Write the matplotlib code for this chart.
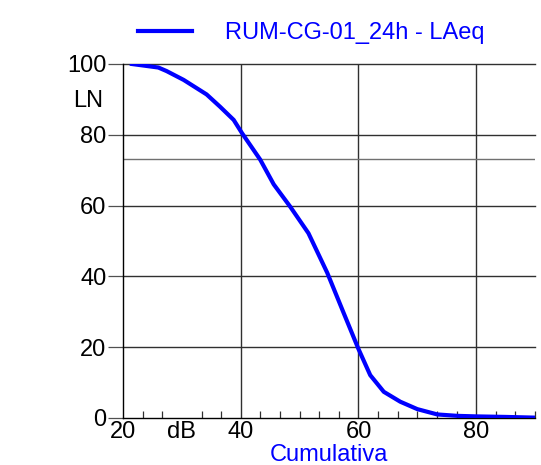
import numpy as np
import matplotlib
matplotlib.use("Agg")
import matplotlib.pyplot as plt
from matplotlib.ticker import MultipleLocator, FixedLocator

plt.rcParams['font.family'] = ['Liberation Sans', 'DejaVu Sans']

# Cumulative level distribution (LN vs dB)
series_name = "RUM-CG-01_24h - LAeq"
level_db = [21.5, 26, 27.4, 30.3, 34.2, 36.5, 38.8, 40.2, 43.3, 45.6, 48.4,
            51.5, 54.7, 57.5, 60, 62, 64.3, 67.1, 70, 73.4, 76.8, 80, 85, 90]
ln_pct = [100, 99, 98, 95.5, 91.4, 87.9, 84.2, 80.5, 73, 66, 59.7,
          52.2, 41, 29.6, 19.5, 12.1, 7.4, 4.6, 2.5, 1.0, 0.6, 0.45, 0.3, 0.1]
ref_level = 73.2

x_ticks = [20, 30, 40, 60, 80]
x_labels = ["20", "dB", "40", "60", "80"]
x_grid = [40, 60, 80]
y_major = [0, 20, 40, 60, 80, 100]

FS = 17

fig = plt.figure(figsize=(5.41, 4.65), dpi=100)
ax = fig.add_axes([0.2274, 0.1011, 0.7616, 0.7613])

ax.set_xlim(20, 90)
ax.set_ylim(0, 100)

for s in ('top', 'right'):
    ax.spines[s].set_visible(False)
ax.spines['left'].set_color('black')
ax.spines['bottom'].set_color('black')
ax.spines['left'].set_linewidth(1.0)
ax.spines['bottom'].set_linewidth(1.0)

# grid
for xv in x_grid:
    ax.axvline(xv, color='#303030', lw=1.0, zorder=1)
for yv in y_major[1:]:
    ax.axhline(yv, color='#303030', lw=1.0, zorder=1, clip_on=False)
ax.axhline(ref_level, color='#707070', lw=1.0, zorder=1)

ax.plot(level_db, ln_pct, color='#0000ff', lw=3.0, zorder=3,
        solid_joinstyle='round', label=series_name)

ax.xaxis.set_major_locator(FixedLocator(x_ticks))
ax.set_xticklabels(x_labels)
ax.xaxis.set_minor_locator(MultipleLocator(10 / 3))
ax.tick_params(axis='x', which='major', direction='in', length=0, pad=2.5,
               labelsize=FS)
ax.tick_params(axis='x', which='minor', direction='in', length=5,
               width=0.9, color='#303030')
ax.yaxis.set_major_locator(FixedLocator(y_major))
ax.tick_params(axis='y', which='major', direction='out', length=11,
               width=0.9, color='#505050', pad=1, labelsize=FS)

ax.text(-0.085, 89.5, "LN", ha='center', va='center', fontsize=FS,
        transform=ax.get_yaxis_transform())
ax.text(0.5, -0.1215, "Cumulativa", ha='center', va='baseline', fontsize=FS,
        color='#0000ff', transform=ax.transAxes)

leg = ax.legend(loc='center left', bbox_to_anchor=(138 / 541, 1 - 33 / 465),
                bbox_transform=fig.transFigure, frameon=False,
                fontsize=FS, handlelength=2.29, handletextpad=1.4,
                borderpad=0, borderaxespad=0)
for t in leg.get_texts():
    t.set_color('#0000ff')

fig.savefig("out.png", dpi=100)
